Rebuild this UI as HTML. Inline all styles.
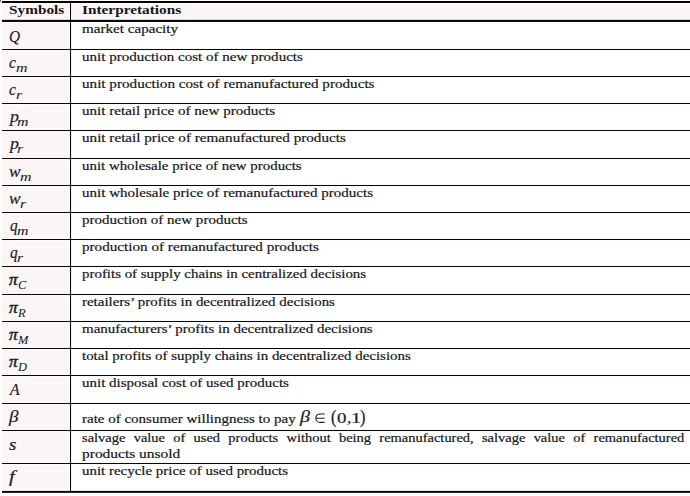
<!DOCTYPE html><html><head><meta charset="utf-8"><title>Symbols</title><style>
html,body{margin:0;padding:0;background:#fff}
body{width:690px;height:496px;position:relative;overflow:hidden;font-family:"Liberation Serif",serif;color:#161616}
.t{position:absolute;white-space:nowrap;font-size:13.4px;line-height:20px;height:20px;transform-origin:0 0;-webkit-text-stroke:0.2px #161616}
.b{font-weight:bold;-webkit-text-stroke:0}
.m{position:absolute;white-space:nowrap;font-style:italic;line-height:24px;height:24px;color:#1c1c24;transform-origin:0 0;-webkit-text-stroke:0.2px #1c1c24}
.bg{position:absolute;background:#fbf5f5}
svg{position:absolute;left:0;top:0}
</style></head><body>
<svg width="690" height="496" viewBox="0 0 690 496" shape-rendering="auto">
<rect x="2" y="4.25" width="67.3" height="14.45" fill="#fbf5f5"/>
<rect x="71.8" y="4.25" width="618.2" height="14.45" fill="#fbf5f5"/>
<rect x="2" y="23.20" width="66.70" height="25.10" fill="#fbf5f5"/>
<rect x="2" y="51.20" width="66.70" height="24.10" fill="#fbf5f5"/>
<rect x="2" y="78.20" width="66.70" height="24.10" fill="#fbf5f5"/>
<rect x="2" y="105.20" width="66.70" height="24.10" fill="#fbf5f5"/>
<rect x="2" y="132.20" width="66.70" height="25.10" fill="#fbf5f5"/>
<rect x="2" y="160.20" width="66.70" height="24.10" fill="#fbf5f5"/>
<rect x="2" y="187.20" width="66.70" height="24.10" fill="#fbf5f5"/>
<rect x="2" y="214.20" width="66.70" height="24.10" fill="#fbf5f5"/>
<rect x="2" y="241.20" width="66.70" height="24.10" fill="#fbf5f5"/>
<rect x="2" y="268.20" width="66.70" height="25.10" fill="#fbf5f5"/>
<rect x="2" y="296.20" width="66.70" height="24.10" fill="#fbf5f5"/>
<rect x="2" y="323.20" width="66.70" height="24.10" fill="#fbf5f5"/>
<rect x="2" y="350.20" width="66.70" height="24.10" fill="#fbf5f5"/>
<rect x="2" y="377.20" width="66.70" height="25.10" fill="#fbf5f5"/>
<rect x="2" y="405.20" width="66.70" height="24.10" fill="#fbf5f5"/>
<rect x="2" y="432.20" width="66.70" height="30.10" fill="#fbf5f5"/>
<rect x="2" y="465.20" width="66.70" height="25.10" fill="#fbf5f5"/>
<rect x="0" y="0" width="0.9" height="1.9" fill="#666"/>
<rect x="2" y="1" width="688" height="2" fill="#050505"/>
<rect x="2" y="19.85" width="688" height="2.1" fill="#050505"/>
<rect x="2" y="49" width="688" height="1" fill="#050505"/>
<rect x="2" y="48.85" width="688" height="1.3" fill="#050505" opacity="0.12"/>
<rect x="2" y="76" width="688" height="1" fill="#050505"/>
<rect x="2" y="75.85" width="688" height="1.3" fill="#050505" opacity="0.12"/>
<rect x="2" y="103" width="688" height="1" fill="#050505"/>
<rect x="2" y="102.85" width="688" height="1.3" fill="#050505" opacity="0.12"/>
<rect x="2" y="130" width="688" height="1" fill="#050505"/>
<rect x="2" y="129.85" width="688" height="1.3" fill="#050505" opacity="0.12"/>
<rect x="2" y="158" width="688" height="1" fill="#050505"/>
<rect x="2" y="157.85" width="688" height="1.3" fill="#050505" opacity="0.12"/>
<rect x="2" y="185" width="688" height="1" fill="#050505"/>
<rect x="2" y="184.85" width="688" height="1.3" fill="#050505" opacity="0.12"/>
<rect x="2" y="212" width="688" height="1" fill="#050505"/>
<rect x="2" y="211.85" width="688" height="1.3" fill="#050505" opacity="0.12"/>
<rect x="2" y="239" width="688" height="1" fill="#050505"/>
<rect x="2" y="238.85" width="688" height="1.3" fill="#050505" opacity="0.12"/>
<rect x="2" y="266" width="688" height="1" fill="#050505"/>
<rect x="2" y="265.85" width="688" height="1.3" fill="#050505" opacity="0.12"/>
<rect x="2" y="294" width="688" height="1" fill="#050505"/>
<rect x="2" y="293.85" width="688" height="1.3" fill="#050505" opacity="0.12"/>
<rect x="2" y="321" width="688" height="1" fill="#050505"/>
<rect x="2" y="320.85" width="688" height="1.3" fill="#050505" opacity="0.12"/>
<rect x="2" y="348" width="688" height="1" fill="#050505"/>
<rect x="2" y="347.85" width="688" height="1.3" fill="#050505" opacity="0.12"/>
<rect x="2" y="375" width="688" height="1" fill="#050505"/>
<rect x="2" y="374.85" width="688" height="1.3" fill="#050505" opacity="0.12"/>
<rect x="2" y="403" width="688" height="1" fill="#050505"/>
<rect x="2" y="402.85" width="688" height="1.3" fill="#050505" opacity="0.12"/>
<rect x="2" y="430" width="688" height="1" fill="#050505"/>
<rect x="2" y="429.85" width="688" height="1.3" fill="#050505" opacity="0.12"/>
<rect x="2" y="463" width="688" height="1" fill="#050505"/>
<rect x="2" y="462.85" width="688" height="1.3" fill="#050505" opacity="0.12"/>
<rect x="2" y="490.9" width="688" height="1.95" fill="#050505"/>
<rect x="70" y="1" width="1" height="491" fill="#050505"/>
<rect x="69.8" y="1" width="1.5" height="491" fill="#050505" opacity="0.15"/>
</svg>
<div class="t b" style="left:9px;top:0.18px;transform:scaleX(1.1424)">Symbols</div>
<div class="t b" style="left:82.2px;top:0.18px;transform:scaleX(1.1434)">Interpretations</div>
<div class="t" style="left:82.2px;top:19.18px;transform:scaleX(1.1281)">market capacity</div>
<div class="t" style="left:82.2px;top:46.78px;transform:scaleX(1.1226)">unit production cost of new products</div>
<div class="t" style="left:82.2px;top:73.78px;transform:scaleX(1.1318)">unit production cost of remanufactured products</div>
<div class="t" style="left:82.2px;top:100.78px;transform:scaleX(1.1263)">unit retail price of new products</div>
<div class="t" style="left:82.2px;top:127.78px;transform:scaleX(1.1317)">unit retail price of remanufactured products</div>
<div class="t" style="left:82.2px;top:155.78px;transform:scaleX(1.1124)">unit wholesale price of new products</div>
<div class="t" style="left:82.2px;top:182.78px;transform:scaleX(1.1229)">unit wholesale price of remanufactured products</div>
<div class="t" style="left:82.2px;top:209.78px;transform:scaleX(1.1216)">production of new products</div>
<div class="t" style="left:82.2px;top:236.78px;transform:scaleX(1.1318)">production of remanufactured products</div>
<div class="t" style="left:82.2px;top:263.78px;transform:scaleX(1.1137)">profits of supply chains in centralized decisions</div>
<div class="t" style="left:82.2px;top:291.78px;transform:scaleX(1.1164)">retailers’ profits in decentralized decisions</div>
<div class="t" style="left:82.2px;top:318.78px;transform:scaleX(1.1180)">manufacturers’ profits in decentralized decisions</div>
<div class="t" style="left:82.2px;top:345.78px;transform:scaleX(1.1149)">total profits of supply chains in decentralized decisions</div>
<div class="t" style="left:82.2px;top:372.78px;transform:scaleX(1.1196)">unit disposal cost of used products</div>
<div class="t" style="left:82.2px;top:408.68px;transform:scaleX(1.1199)">rate of consumer willingness to pay</div>
<div class="t" style="left:82.2px;top:427.78px;width:557.69px;transform:scaleX(1.08);text-align:justify;text-align-last:justify">salvage value of used products without being remanufactured, salvage value of remanufactured</div>
<div class="t" style="left:82.2px;top:443.78px;transform:scaleX(1.1545)">products unsold</div>
<div class="t" style="left:82.2px;top:460.98px;transform:scaleX(1.1151)">unit recycle price of used products</div>
<div class="m" style="left:300.2px;top:405.46px;font-size:17px;transform:scaleX(1.18)">β</div>
<svg width="690" height="496" viewBox="0 0 690 496"><path d="M324.6 414h-4.6a4.2 4.2 0 0 0 0 8.4h4.6M315.9 418.2h8.7" fill="none" stroke="#1c1c24" stroke-width="1.15"/></svg>
<div class="m" style="left:331.4px;top:404.77px;font-size:15.5px;font-style:normal;transform-origin:0 50%;transform:scale(1.05,1.16)">(</div>
<div class="m" style="left:336.9px;top:405.97px;font-size:15.5px;font-style:normal;transform-origin:0 50%;transform:scale(1.22,1)">0</div>
<div class="m" style="left:346.6px;top:405.97px;font-size:15.5px;font-style:normal;transform-origin:0 50%;transform:scale(1.1,1)">,</div>
<div class="m" style="left:350.6px;top:405.97px;font-size:15.5px;font-style:normal;transform-origin:0 50%;transform:scale(1.3,1)">1</div>
<div class="m" style="left:359.6px;top:404.77px;font-size:15.5px;font-style:normal;transform-origin:0 50%;transform:scale(1.05,1.16)">)</div>
<div class="m" style="left:8.5px;top:25.06px;font-size:17px;transform:scaleX(0.9)">Q</div>
<div class="m" style="left:9.4px;top:51.16px;font-size:17px;transform:scaleX(0.92)">c</div>
<div class="m" style="left:16.04px;top:56.15px;font-size:12px;transform:scaleX(1.32);-webkit-text-stroke-width:0.05px">m</div>
<div class="m" style="left:9.4px;top:78.16px;font-size:17px;transform:scaleX(0.92)">c</div>
<div class="m" style="left:16.04px;top:83.15px;font-size:12px;transform:scaleX(1.3);-webkit-text-stroke-width:0.05px">r</div>
<div class="m" style="left:10px;top:105.16px;font-size:17px;transform:scaleX(1.05)">p</div>
<div class="m" style="left:17.23px;top:110.15px;font-size:12px;transform:scaleX(1.32);-webkit-text-stroke-width:0.05px">m</div>
<div class="m" style="left:10px;top:132.16px;font-size:17px;transform:scaleX(1.05)">p</div>
<div class="m" style="left:17.23px;top:137.15px;font-size:12px;transform:scaleX(1.3);-webkit-text-stroke-width:0.05px">r</div>
<div class="m" style="left:9.2px;top:160.16px;font-size:17px;transform:scaleX(1.02)">w</div>
<div class="m" style="left:19.77px;top:165.15px;font-size:12px;transform:scaleX(1.32);-webkit-text-stroke-width:0.05px">m</div>
<div class="m" style="left:9.2px;top:187.16px;font-size:17px;transform:scaleX(1.02)">w</div>
<div class="m" style="left:19.77px;top:192.15px;font-size:12px;transform:scaleX(1.3);-webkit-text-stroke-width:0.05px">r</div>
<div class="m" style="left:9.8px;top:214.16px;font-size:17px;transform:scaleX(0.9)">q</div>
<div class="m" style="left:16.85px;top:219.15px;font-size:12px;transform:scaleX(1.32);-webkit-text-stroke-width:0.05px">m</div>
<div class="m" style="left:9.8px;top:241.16px;font-size:17px;transform:scaleX(0.9)">q</div>
<div class="m" style="left:16.85px;top:246.15px;font-size:12px;transform:scaleX(1.3);-webkit-text-stroke-width:0.05px">r</div>
<div class="m" style="left:9.2px;top:267.86px;font-size:17px;transform:scaleX(1.02);-webkit-text-stroke-width:0.5px">π</div>
<div class="m" style="left:18.29px;top:272.92px;font-size:11.5px;transform:scaleX(1.08);-webkit-text-stroke-width:0.05px">C</div>
<div class="m" style="left:9.2px;top:295.86px;font-size:17px;transform:scaleX(1.02);-webkit-text-stroke-width:0.5px">π</div>
<div class="m" style="left:18.29px;top:300.92px;font-size:11.5px;transform:scaleX(1.08);-webkit-text-stroke-width:0.05px">R</div>
<div class="m" style="left:9.2px;top:322.86px;font-size:17px;transform:scaleX(1.02);-webkit-text-stroke-width:0.5px">π</div>
<div class="m" style="left:18.29px;top:327.92px;font-size:11.5px;transform:scaleX(1.08);-webkit-text-stroke-width:0.05px">M</div>
<div class="m" style="left:9.2px;top:349.86px;font-size:17px;transform:scaleX(1.02);-webkit-text-stroke-width:0.5px">π</div>
<div class="m" style="left:18.29px;top:354.92px;font-size:11.5px;transform:scaleX(1.08);-webkit-text-stroke-width:0.05px">D</div>
<div class="m" style="left:9.6px;top:377.66px;font-size:17px;transform:scaleX(0.92)">A</div>
<div class="m" style="left:9.2px;top:405.16px;font-size:17px;transform:scaleX(1.12)">β</div>
<div class="m" style="left:9.2px;top:433.26px;font-size:17px;transform:scaleX(1.12)">s</div>
<div class="m" style="left:8.8px;top:464.96px;font-size:17px;transform:scaleX(1.22)">f</div>
</body></html>
